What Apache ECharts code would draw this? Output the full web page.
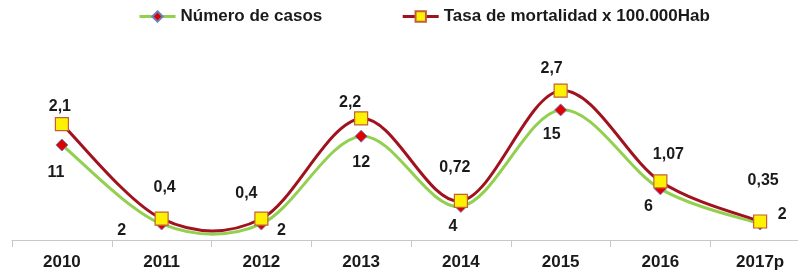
<!DOCTYPE html>
<html>
<head>
<meta charset="utf-8">
<script src="https://cdn.jsdelivr.net/npm/echarts@6/dist/echarts.min.js"></script>
<style>html,body{margin:0;padding:0;background:#fff;}#c{width:798px;height:273px;}</style>
</head>
<body>
<div id="c"></div>
<script>
const categories = ['2010','2011','2012','2013','2014','2015','2016','2017p'];
const casos = [11, 2, 2, 12, 4, 15, 6, 2];
const tasa = [2.1, 0.4, 0.4, 2.2, 0.72, 2.7, 1.07, 0.35];
const seriesNames = ['Número de casos', 'Tasa de mortalidad x 100.000Hab'];

// label offsets (style only)
const casosOffsets = [[-6,28],[-40,7],[20,7],[0,26],[-8,20],[-9,25],[-12,18],[22,-9]];
const tasaOffsets = [[-2,-17],[3,-31],[-15,-25],[-11,-16],[-6,-33],[-9,-22],[8,-27],[3,-41]];

const GREEN = '#92D050', DARKRED = '#A0121E';
const FONT = 'Liberation Sans, Arial, sans-serif';
const fmt = v => String(v).replace('.', ',');
const lblBase = {show:true, position:'inside', color:'#1a1a1a', fontSize:16, fontWeight:'bold', fontFamily:FONT};

// Smooth curve (Catmull-Rom -> Bezier) drawn segment by segment through the axis scales
function smoothSegment(values, color) {
  return function (params, api) {
    const i = params.dataIndex;
    const n = values.length;
    if (i >= n - 1) return null;
    const c = k => api.coord([Math.max(0, Math.min(n - 1, k)), values[Math.max(0, Math.min(n - 1, k))]]);
    const p0 = c(i - 1), p1 = c(i), p2 = c(i + 1), p3 = c(i + 2);
    return {
      type: 'bezierCurve',
      shape: {
        x1: p1[0], y1: p1[1], x2: p2[0], y2: p2[1],
        cpx1: p1[0] + (p2[0] - p0[0]) / 6, cpy1: p1[1] + (p2[1] - p0[1]) / 6,
        cpx2: p2[0] - (p3[0] - p1[0]) / 6, cpy2: p2[1] - (p3[1] - p1[1]) / 6
      },
      style: {stroke: color, lineWidth: 3, fill: null}
    };
  };
}

const chart = echarts.init(document.getElementById('c'), null, {renderer:'canvas'});
chart.setOption({
  animation:false,
  backgroundColor:'#fff',
  textStyle:{fontFamily:FONT},
  legend:{
    top:8, left:138, padding:0, itemGap:79, itemWidth:36, itemHeight:13,
    textStyle:{fontSize:17, fontWeight:'bold', color:'#1a1a1a', fontFamily:FONT},
    data:[
      {name:seriesNames[0], lineStyle:{color:GREEN, width:3, opacity:1}},
      {name:seriesNames[1], lineStyle:{color:DARKRED, width:3, opacity:1}}
    ]
  },
  grid:{left:12, right:-12, top:40, bottom:33, outerBoundsMode:'none'},
  xAxis:{
    type:'category', data:categories, boundaryGap:true,
    axisLine:{onZero:false, lineStyle:{color:'#c8c8c8', width:1}},
    axisTick:{show:true, length:7, lineStyle:{color:'#c8c8c8'}},
    axisLabel:{color:'#1a1a1a', fontSize:17, fontWeight:'bold', margin:14, fontFamily:FONT}
  },
  yAxis:[
    {type:'value', min:0.171, max:22.97, show:false, splitLine:{show:false}},
    {type:'value', min:0.018, max:3.609, show:false, splitLine:{show:false}}
  ],
  series:[
    {
      type:'custom', name:'_casosLine', yAxisIndex:0, silent:true,
      data:casos.map((v,i)=>[i,v]),
      renderItem:smoothSegment(casos, GREEN),
      encode:{x:0, y:1}, z:1
    },
    {
      type:'custom', name:'_tasaLine', yAxisIndex:1, silent:true,
      data:tasa.map((v,i)=>[i,v]),
      renderItem:smoothSegment(tasa, DARKRED),
      encode:{x:0, y:1}, z:2
    },
    {
      name:seriesNames[0], type:'line', yAxisIndex:0,
      data:casos.map((v,i)=>({value:v, label:{offset:casosOffsets[i]}})),
      lineStyle:{color:GREEN, width:3, opacity:0},
      itemStyle:{color:'#E00000', borderColor:'#6A7FC0', borderWidth:1},
      symbol:'diamond', symbolSize:12,
      label:Object.assign({}, lblBase, {formatter:p=>fmt(p.value)}),
      z:3
    },
    {
      name:seriesNames[1], type:'line', yAxisIndex:1,
      data:tasa.map((v,i)=>({value:v, label:{offset:tasaOffsets[i]}})),
      lineStyle:{color:DARKRED, width:3, opacity:0},
      itemStyle:{color:'#FFF200', borderColor:'#C0603A', borderWidth:1.2},
      symbol:'rect', symbolSize:13,
      label:Object.assign({}, lblBase, {formatter:p=>fmt(p.value)}),
      z:4
    }
  ]
});
</script>
</body>
</html>
